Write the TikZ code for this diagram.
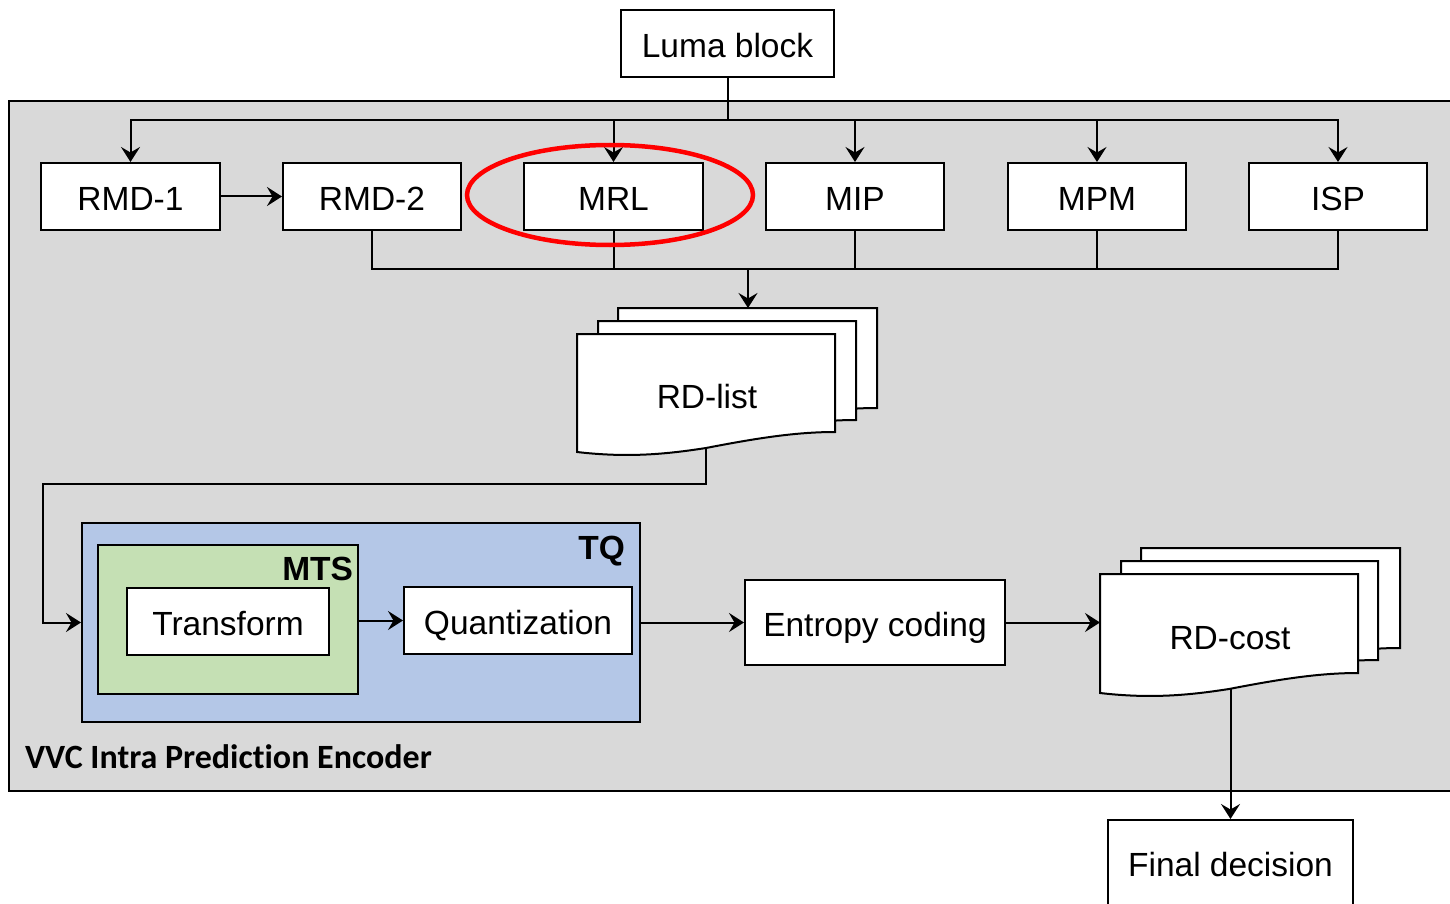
\documentclass[tikz,border=0pt]{standalone}
\usepackage{fontspec}
\setmainfont{Liberation Sans}
\newfontfamily\calfont[RawFeature={-liga;-dlig}]{Carlito}
\usetikzlibrary{arrows.meta}
\definecolor{bggray}{HTML}{D9D9D9}
\definecolor{tqblue}{HTML}{B4C7E7}
\definecolor{mtsgreen}{HTML}{C5E0B4}
\newcommand{\docshape}[4]{%
 \filldraw[fill=white] (#1,#2) -- (#3,#2) -- (#3,#4)
   .. controls ({#1+0.85*(#3-#1)},#4) and ({#1+0.7*(#3-#1)},{#4+6}) .. ({(#1+#3)/2},{#4+16})
   .. controls ({#1+0.35*(#3-#1)},{#4+22}) and ({#1+0.2*(#3-#1)},{#4+26}) .. (#1,{#4+20}) -- cycle;}
\begin{document}
\begin{tikzpicture}[x=1pt,y=-1pt,line width=2pt,
  box/.style={draw,fill=white,inner sep=0pt,text height=32pt,text depth=4pt,font=\fontsize{33.5}{40}\selectfont},
  txt/.style={inner sep=0pt,text height=32pt,text depth=4pt,font=\fontsize{33.5}{40}\selectfont},
  lbl/.style={inner sep=0pt,font=\bfseries\fontsize{33.5}{40}\selectfont},
  arr/.style={-{Stealth[length=15pt,width=19pt,inset=5.5pt]}}]
\path[use as bounding box,clip] (0,0) rectangle (1450,904);
% outer gray box
\fill[bggray] (9,101) rectangle (1480,791);
\draw (9,101) rectangle (1480,791);
% top
\node[box,minimum width=213pt,minimum height=67pt] (luma) at (727.5,43.5) {Luma block};
\node[box,minimum width=179pt,minimum height=67pt] (rmd1) at (130.5,196.5) {RMD-1};
\node[box,minimum width=178pt,minimum height=67pt] (rmd2) at (372,196.5) {RMD-2};
\node[box,minimum width=179pt,minimum height=67pt] (mrl) at (613.5,196.5) {MRL};
\node[box,minimum width=178pt,minimum height=67pt] (mip) at (855,196.5) {MIP};
\node[box,minimum width=178pt,minimum height=67pt] (mpm) at (1097,196.5) {MPM};
\node[box,minimum width=178pt,minimum height=67pt] (isp) at (1338,196.5) {ISP};
\coordinate (bus) at (727.5,120);
\draw (luma.south) -- (bus);
\draw[arr] (bus) -| (rmd1.north);
\draw[arr] (bus) -| (mrl.north);
\draw[arr] (bus) -| (mip.north);
\draw[arr] (bus) -| (mpm.north);
\draw[arr] (bus) -| (isp.north);
\draw[arr] (rmd1.east) -- (rmd2.west);
\coordinate (bus2) at (748,269);
\draw (rmd2.south) |- (bus2);
\draw (isp.south) |- (bus2);
\draw (mrl.south) -- (mrl.south |- bus2);
\draw (mip.south) -- (mip.south |- bus2);
\draw (mpm.south) -- (mpm.south |- bus2);
\draw[red,line width=4.5pt] (610,195) ellipse [x radius=143pt,y radius=50pt];
% RD-list
\docshape{618}{308}{877}{408}
\docshape{598}{321}{856}{420}
\docshape{577}{334}{835}{432}
\coordinate (rdltop) at (748,308);
\coordinate (rdlbot) at (706,448);
\draw[arr] (bus2) -- (rdltop);
\node[txt] (rdlist) at (707,394) {RD-list};
% TQ
\node[draw,fill=tqblue,minimum width=558pt,minimum height=199pt,inner sep=0pt] (tq) at (361,622.5) {};
\node[lbl,anchor=east] (tqlbl) at (626,551) {TQ};
\node[draw,fill=mtsgreen,minimum width=260pt,minimum height=149pt,inner sep=0pt] (mts) at (228,619.5) {};
\node[lbl,anchor=east] (mtslbl) at (354,569) {MTS};
\node[box,minimum width=202pt,minimum height=67pt] (transform) at (228,621.5) {Transform};
\node[box,minimum width=228pt,minimum height=67pt] (quant) at (518,620.5) {Quantization};
\draw[arr] (mts.east |- quant.west) -- (quant.west);
\coordinate (turn) at (43,484);
\draw[arr] (rdlbot) |- (turn) |- (tq.west);
\node[anchor=west,inner sep=0pt,font=\calfont\bfseries\fontsize{34}{40}\selectfont] (vvc) at (24,757) {VVC Intra Prediction Encoder};
% Entropy
\node[box,minimum width=260pt,minimum height=85pt] (entropy) at (875,622.5) {Entropy coding};
\draw[arr] (tq.east) -- (entropy.west);
% RD-cost
\docshape{1141}{548}{1400}{648}
\docshape{1121}{561}{1378}{660}
\docshape{1100}{574}{1358}{673}
\node[txt] (rdcost) at (1230,635) {RD-cost};
\coordinate (rdcin) at (1100,622.5);
\coordinate (rdcbot) at (1230.5,689);
\draw[arr] (entropy.east) -- (rdcin);
% Final
\node[box,minimum width=245pt,minimum height=85pt] (final) at (1230.5,862.5) {Final decision};
\draw[arr] (rdcbot) -- (final.north);
\end{tikzpicture}
\end{document}
